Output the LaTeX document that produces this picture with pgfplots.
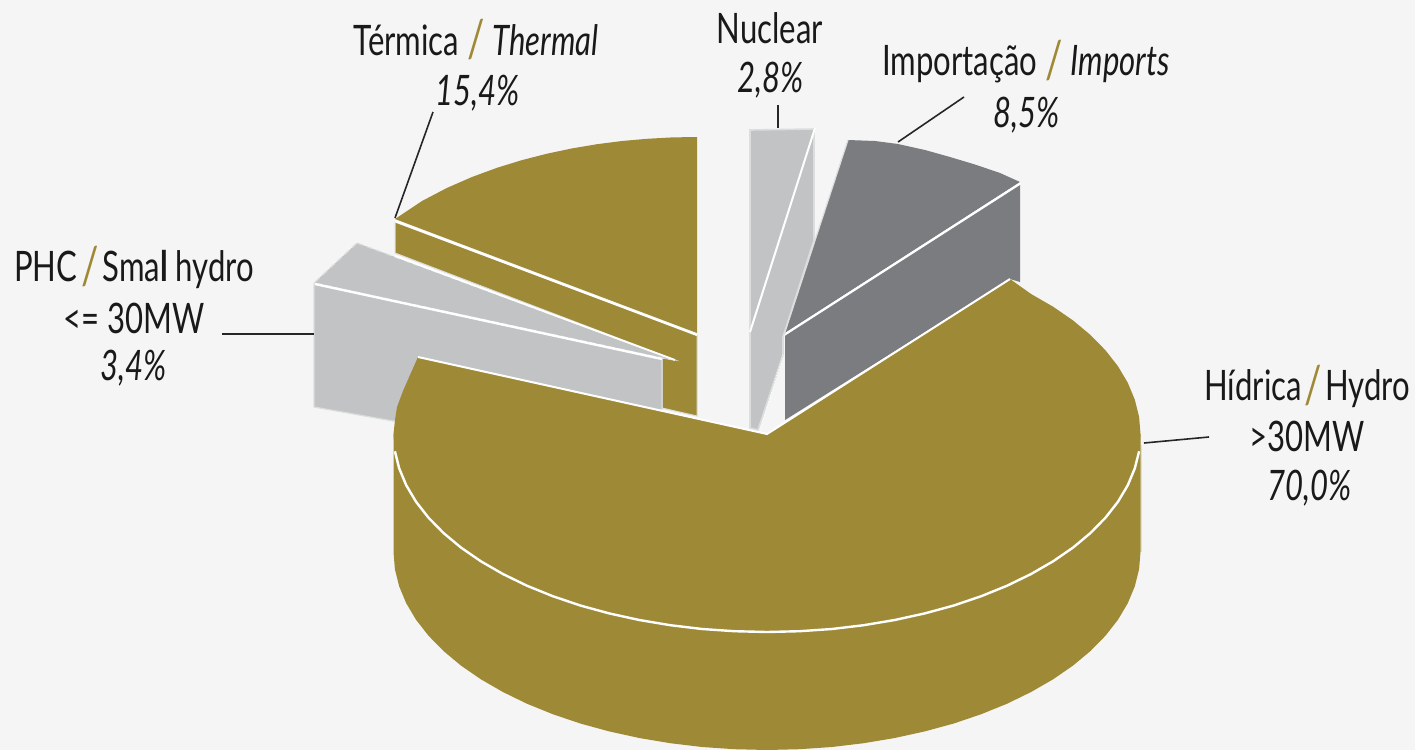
\documentclass[border=0pt]{standalone}
\usepackage{fontspec}
\setmainfont[FakeStretch=0.74]{Lato}
\usepackage{pgfplots}
\pgfplotsset{compat=1.18}
\definecolor{bgc}{HTML}{F5F5F5}
\definecolor{gold}{HTML}{9E8A36}
\definecolor{lgray}{HTML}{C2C3C5}
\definecolor{dgray}{HTML}{7B7C80}
\definecolor{edge}{HTML}{DCDDDD}
\newcommand{\sep}{\textcolor{gold}{\raisebox{-0.07em}{\fontsize{26}{26}\selectfont\upshape /}}}
\begin{document}
\begin{tikzpicture}
\begin{axis}[
  scale only axis, width=707.5pt, height=375pt,
  xmin=0, xmax=1415, ymin=0, ymax=750, y dir=reverse,
  axis line style={draw=none}, ticks=none,
  axis background/.style={fill=bgc},
  every axis plot/.append style={no markers},
  nodes={font=\fontsize{21}{25}\selectfont, inner sep=0pt, text=black!90},
]
% Thermal, 15.4
\addplot[fill=gold, draw=edge, line width=0.5pt] coordinates {(395,222)(697,335)(697,416)(662,408)(662,358)(675,360)(395,253)} --cycle;
\addplot[fill=gold, draw=none] coordinates {(395,219)(422,201)(447,187.9)(472,177)(497,167.8)(522,160.1)(547,153.7)(572,148.4)(597,144.2)(622,141)(647,138.8)(672,137.4)(697,137)(697,333)} --cycle;
\addplot[white, line width=1.1pt] coordinates {(395,221)(697,335)};
% Small hydro, 3.4
\addplot[fill=lgray, draw=edge, line width=0.6pt] coordinates {(314,284)(662,359)(662,410)(393,421)(314,407)} --cycle;
\addplot[fill=lgray, draw=edge, line width=0.6pt, densely dashed] coordinates {(357,243)(675,360)(662,358)(314,283)} --cycle;
\addplot[white, line width=0.9pt] coordinates {(395,256)(675,360)};
\addplot[white, line width=1.2pt] coordinates {(315,284)(662,359)};
% Nuclear, 2.8
\addplot[fill=lgray, draw=edge, line width=0.8pt] coordinates {(750,130)(814,129)(814,240)(783,337)(783,355)(758,430)(750,428)} --cycle;
\addplot[white, line width=1pt] coordinates {(750,332)(815,128)};
\addplot[white, line width=0.5pt, densely dotted] coordinates {(783,355)(760,431)};
% Imports, 8.5
\addplot[fill=dgray, draw=none] coordinates {(1020,184)(1020,282)(1010,279)(785,420)(785,335)} --cycle;
\addplot[fill=dgray, draw=none] coordinates {(848,140)(875,141)(898,144)(925,150)(950,157)(975,164.5)(1000,173)(1020,182)(785,333)} --cycle;
\addplot[white, line width=1.1pt] coordinates {(1021,183)(784,335)};
\addplot[edge, line width=0.6pt] coordinates {(848,140)(784,335)};
% Hydro, 70.0: side wall
\addplot[fill=gold, draw=none] coordinates {(1140.5,434)(1140.5,552)(1139.1,569.3)(1134.8,586.4)(1127.8,603.2)(1118,619.7)(1105.5,635.7)(1090.5,651)(1073,665.6)(1053.1,679.3)(1031.1,692)(1007.1,703.7)(981.2,714.2)(953.8,723.5)(924.8,731.4)(894.7,738)(863.7,743.2)(831.9,747)(799.6,749.2)(767,750)(734.4,749.2)(702.1,747)(670.3,743.2)(639.3,738)(609.2,731.4)(580.3,723.5)(552.8,714.2)(526.9,703.7)(502.9,692)(480.9,679.3)(461,665.6)(443.5,651)(428.5,635.7)(416,619.7)(406.2,603.2)(399.2,586.4)(394.9,569.3)(393.5,552)(393.5,434)} --cycle;
\addplot[edge, line width=0.6pt] coordinates {(1141.5,445)(1141.5,552)};
% Hydro top
\addplot[fill=gold, draw=none] coordinates {(767,434)(1010,279)(1031.1,294)(1053.1,306.7)(1073,320.4)(1090.5,335)(1105.5,350.3)(1118,366.3)(1127.8,382.8)(1134.8,399.6)(1139.1,416.7)(1140.5,434)(1139.1,451.3)(1134.8,468.4)(1127.8,485.2)(1118,501.7)(1105.5,517.7)(1090.5,533)(1073,547.6)(1053.1,561.3)(1031.1,574)(1007.1,585.7)(981.2,596.2)(953.8,605.5)(924.8,613.4)(894.7,620)(863.7,625.2)(831.9,629)(799.6,631.2)(767,632)(734.4,631.2)(702.1,629)(670.3,625.2)(639.3,620)(609.2,613.4)(580.3,605.5)(552.8,596.2)(526.9,585.7)(502.9,574)(480.9,561.3)(461,547.6)(443.5,533)(428.5,517.7)(416,501.7)(406.2,485.2)(399.2,468.4)(394.9,451.3)(393.5,434)(395,420)(397,407)(403,391)(410,375)(418,357)} --cycle;
\addplot[white, line width=1.2pt] coordinates {(1139.1,451.3)(1134.8,468.4)(1127.8,485.2)(1118,501.7)(1105.5,517.7)(1090.5,533)(1073,547.6)(1053.1,561.3)(1031.1,574)(1007.1,585.7)(981.2,596.2)(953.8,605.5)(924.8,613.4)(894.7,620)(863.7,625.2)(831.9,629)(799.6,631.2)(767,632)(734.4,631.2)(702.1,629)(670.3,625.2)(639.3,620)(609.2,613.4)(580.3,605.5)(552.8,596.2)(526.9,585.7)(502.9,574)(480.9,561.3)(461,547.6)(443.5,533)(428.5,517.7)(416,501.7)(406.2,485.2)(399.2,468.4)(394.9,451.3)};
\addplot[white, line width=1pt] coordinates {(418,357)(767,434)(1010,279)};
% leaders
\addplot[black!85, line width=0.8pt] coordinates {(433,112)(395,218)};
\addplot[black!85, line width=0.8pt] coordinates {(778,105)(778,128)};
\addplot[black!85, line width=0.8pt] coordinates {(964,97)(898,142)};
\addplot[black!85, line width=0.8pt] coordinates {(222,334)(314,334)};
\addplot[black!85, line width=0.8pt] coordinates {(1209,437)(1144,443)};
% labels
\node at (axis cs:476,40) {Térmica \sep{} \textit{Thermal}};
\node at (axis cs:478,93) {\textit{15,4\%}};
\node at (axis cs:770,28) {Nuclear};
\node at (axis cs:771,80) {\textit{2,8\%}};
\node at (axis cs:1026,62) {Importação \sep{} \textit{Imports}};
\node at (axis cs:1027,115) {\textit{8,5\%}};
\node at (axis cs:134,267) {PHC\hspace{-2pt} \sep{}\hspace{-2pt} Sma\textbf{l} hydro};
\node at (axis cs:134,318) {<= 30MW};
\node at (axis cs:134,368) {\textit{3,4\%}};
\node at (axis cs:1307,386) {Hídrica\hspace{-2.5pt} \sep{}\hspace{-2.5pt} Hydro};
\node at (axis cs:1307,436) {>30MW};
\node at (axis cs:1310,488) {\textit{70,0\%}};
\end{axis}
\end{tikzpicture}
\end{document}
